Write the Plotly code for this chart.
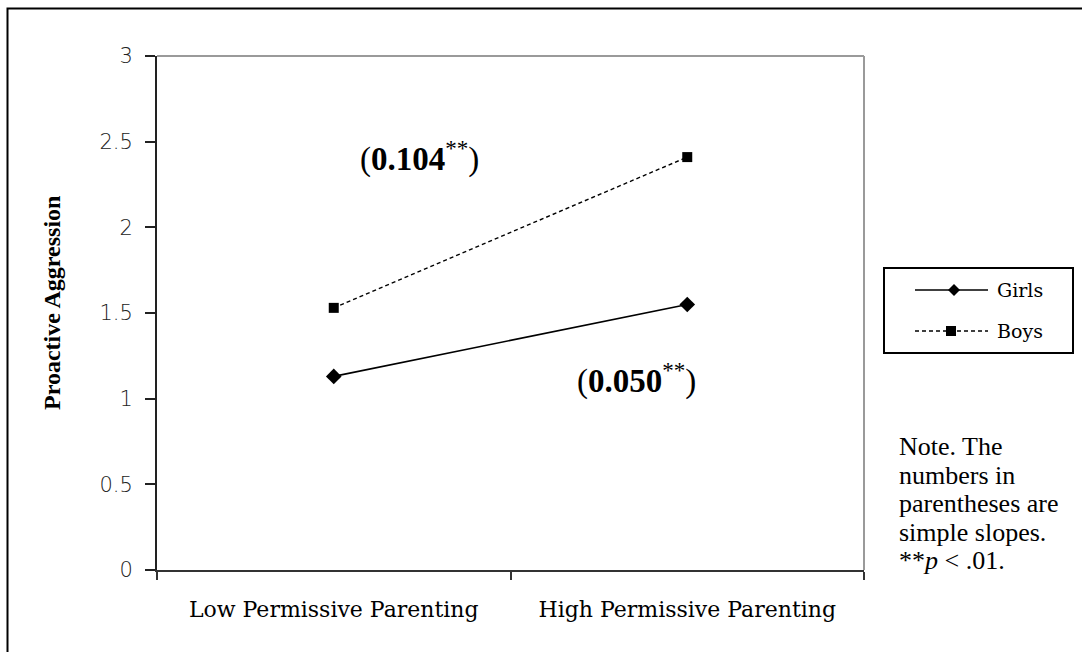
import plotly.graph_objects as go

# ---- data -------------------------------------------------------------
categories = ["Low Permissive Parenting", "High Permissive Parenting"]
girls = [1.13, 1.55]
boys = [1.53, 2.41]
series_names = ["Girls", "Boys"]
slope_labels = ["0.104", "0.050"]   # simple slopes: boys, girls
y_ticks = [0, 0.5, 1, 1.5, 2, 2.5, 3]
note_lines = ["Note. The", "numbers in", "parentheses are", "simple slopes.",
              "**<i>p</i> &lt; .01."]

# ---- page geometry (pixels) --------------------------------------------
W_FIG, H_FIG = 1082, 652
L, R, T, B = 157, 864, 56, 570          # plot area edges
PW, PH = R - L, B - T


def px(x):
    return (x - L) / PW


def py(y):
    return (B - y) / PH


fig = go.Figure()

fig.add_trace(go.Scatter(
    x=categories, y=girls, name=series_names[0], mode="lines+markers",
    line=dict(color="black", width=1.6),
    marker=dict(symbol="diamond", size=12, color="black"),
    cliponaxis=False,
))
fig.add_trace(go.Scatter(
    x=categories, y=boys, name=series_names[1], mode="lines+markers",
    line=dict(color="black", width=1.4, dash="4px,3px"),
    marker=dict(symbol="square", size=10, color="black"),
    cliponaxis=False,
))

shapes = []
# light frame on top and right of the plot area
shapes.append(dict(type="line", xref="paper", yref="paper", x0=0, x1=1, y0=1, y1=1,
                   line=dict(color="#9a9a9a", width=2)))
shapes.append(dict(type="line", xref="paper", yref="paper", x0=1, x1=1, y0=0, y1=1,
                   line=dict(color="#9a9a9a", width=2)))
# outer page border
shapes.append(dict(type="rect", xref="paper", yref="paper",
                   x0=px(7.5), x1=px(1200), y0=py(800), y1=py(8.5),
                   line=dict(color="black", width=2)))

# legend box
shapes.append(dict(type="rect", xref="paper", yref="paper",
                   x0=px(884), x1=px(1073), y0=py(353), y1=py(268),
                   line=dict(color="black", width=2), fillcolor="white"))
legend_rows = [290, 331]
shapes.append(dict(type="line", xref="paper", yref="paper",
                   x0=px(915), x1=px(988), y0=py(legend_rows[0]), y1=py(legend_rows[0]),
                   line=dict(color="black", width=1.6)))
shapes.append(dict(type="line", xref="paper", yref="paper",
                   x0=px(915), x1=px(988), y0=py(legend_rows[1]), y1=py(legend_rows[1]),
                   line=dict(color="black", width=1.4, dash="4px,3px")))
# diamond marker for Girls
dx, dy = 954, legend_rows[0]
shapes.append(dict(type="path", xref="paper", yref="paper",
                   path=(f"M {px(dx-6)} {py(dy)} L {px(dx)} {py(dy-6)} "
                         f"L {px(dx+6)} {py(dy)} L {px(dx)} {py(dy+6)} Z"),
                   fillcolor="black", line=dict(color="black", width=0)))
# square marker for Boys
sx, sy = 951, legend_rows[1]
shapes.append(dict(type="rect", xref="paper", yref="paper",
                   x0=px(sx-5), x1=px(sx+5), y0=py(sy+5), y1=py(sy-5),
                   fillcolor="black", line=dict(color="black", width=0)))

annotations = []
for name, yy in zip(series_names, legend_rows):
    annotations.append(dict(x=px(995), y=py(yy), xref="paper", yref="paper",
                            xanchor="left", yanchor="middle", showarrow=False,
                            text=name, font=dict(family="DejaVu Serif", size=19, color="black")))

# simple-slope labels
slope_pos = [(419, 156), (636, 378)]
for lab, (xx, yy) in zip(slope_labels, slope_pos):
    annotations.append(dict(x=px(xx), y=py(yy), xref="paper", yref="paper",
                            xanchor="center", yanchor="middle", showarrow=False,
                            text=f"(<b>{lab}</b><sup>**</sup>)",
                            font=dict(family="Liberation Serif", size=33, color="black")))

# note text, one line each
note_top = 430
for i, line in enumerate(note_lines):
    annotations.append(dict(x=px(897), y=py(note_top + i * 28.6), xref="paper", yref="paper",
                            xanchor="left", yanchor="top", showarrow=False, text=line,
                            font=dict(family="Liberation Serif", size=26, color="black")))

# y axis title
annotations.append(dict(x=px(52), y=py(303), xref="paper", yref="paper",
                        xanchor="center", yanchor="middle", showarrow=False, textangle=-90,
                        text="<b>Proactive Aggression</b>",
                        font=dict(family="Liberation Serif", size=24, color="black")))

fig.update_layout(
    width=W_FIG, height=H_FIG,
    margin=dict(l=L, r=W_FIG - R, t=T, b=H_FIG - B, pad=0),
    paper_bgcolor="white", plot_bgcolor="white",
    showlegend=False,
    shapes=shapes, annotations=annotations,
    xaxis=dict(
        type="category", range=[-0.5, 1.5], tickson="boundaries",
        showline=True, linecolor="#333333", linewidth=2,
        ticks="outside", ticklen=8, tickwidth=2, tickcolor="#333333",
        showgrid=False, zeroline=False, ticklabelstandoff=19,
        tickfont=dict(family="DejaVu Serif", size=22, color="black"),
    ),
    yaxis=dict(
        range=[0, 3], tickvals=y_ticks, ticktext=[f"{v:g}" for v in y_ticks],
        showline=True, linecolor="#222222", linewidth=2,
        ticks="outside", ticklen=10, tickwidth=2, tickcolor="#222222",
        showgrid=False, zeroline=False, ticklabelstandoff=8,
        tickfont=dict(family="DejaVu Sans", size=21, color="#222222", weight=200),
    ),
)

fig.write_html("out.html")
